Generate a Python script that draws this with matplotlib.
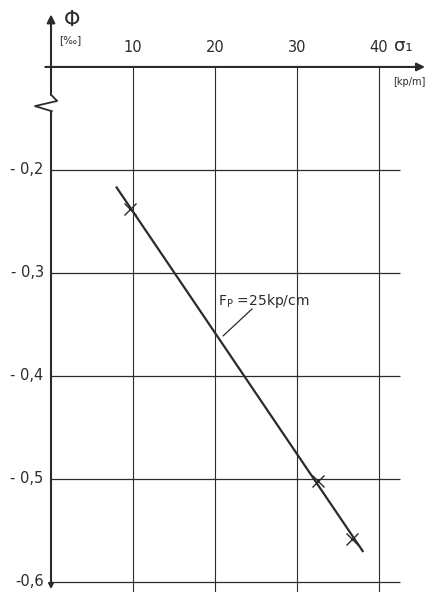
import matplotlib
matplotlib.use("Agg")
import matplotlib.pyplot as plt

# measured points and the fitted straight line
sigma = [9.6, 32.6, 36.7]
phi = [-0.238, -0.502, -0.558]
fit_sigma = [8.0, 38.0]
fit_phi = [-0.217, -0.570]

x_ticks = [10, 20, 30, 40]
y_ticks = [-0.2, -0.3, -0.4, -0.5, -0.6]
y_labels = ["- 0,2", "- 0,3", "- 0,4", "- 0,5", "-0,6"]
zero_at = -0.1  # axis is broken: zero line drawn here

ink = "#2b2b2b"
plt.rcParams["font.family"] = ["DejaVu Sans"]

fig = plt.figure(figsize=(4.25, 5.94), dpi=100)
ax = fig.add_axes([0, 0, 1, 1])
ax.set_xlim(-6.22, 45.6)
ax.set_ylim(-0.6117, -0.035)
ax.axis("off")

# grid
for yv in y_ticks:
    ax.plot([0, 42.6], [yv, yv], color=ink, lw=0.9, solid_capstyle="butt")
for xv in x_ticks:
    ax.plot([xv, xv], [zero_at, -0.609], color=ink, lw=0.8)

# x axis with arrow
ax.annotate("", xy=(45.6, zero_at), xytext=(-0.7, zero_at),
            arrowprops=dict(arrowstyle="-|>", color=ink, lw=1.5,
                            mutation_scale=12, shrinkA=0, shrinkB=0))

# y axis: lower part, zigzag break, upper part with arrow
ax.annotate("", xy=(0, -0.607), xytext=(0, -0.143),
            arrowprops=dict(arrowstyle="-|>", color=ink, lw=1.5,
                            mutation_scale=7, shrinkA=0, shrinkB=0))
ax.plot([0, 0.75, -1.95, 0.1], [-0.127, -0.133, -0.138, -0.143],
        color=ink, lw=1.3)
ax.annotate("", xy=(0, -0.049), xytext=(0, -0.127),
            arrowprops=dict(arrowstyle="-|>", color=ink, lw=1.5,
                            mutation_scale=12, shrinkA=0, shrinkB=0))

# fitted line and measured points
ax.plot(fit_sigma, fit_phi, color=ink, lw=1.6)
ax.plot(sigma, phi, linestyle="none", marker="x", color=ink,
        markersize=8, markeredgewidth=1.0)

# tick labels
for xv in x_ticks:
    ax.text(xv, zero_at + 0.012, str(xv), ha="center", va="bottom",
            fontsize=10.5, color=ink)
for yv, lab in zip(y_ticks, y_labels):
    ax.text(-0.9, yv, lab, ha="right", va="center", fontsize=10.5, color=ink)

# axis names
ax.text(1.6, -0.054, "Φ", ha="left", va="center", fontsize=15, color=ink)
ax.text(1.0, -0.074, "[‰]", ha="left", va="center", fontsize=7.5, color=ink)
ax.text(41.8, zero_at + 0.012, "σ₁", ha="left", va="bottom",
        fontsize=13, color=ink)
ax.text(43.7, zero_at - 0.015, "[kp/m]", ha="center", va="center",
        fontsize=7, color=ink)

# line label with leader
ax.text(20.3, -0.327, r"F$_\mathregular{P}$ =25kp/cm", ha="left",
        va="center", fontsize=10, color=ink)
ax.plot([21.0, 24.5], [-0.361, -0.335], color=ink, lw=0.9)

fig.savefig("out.png", dpi=100, facecolor="white")
